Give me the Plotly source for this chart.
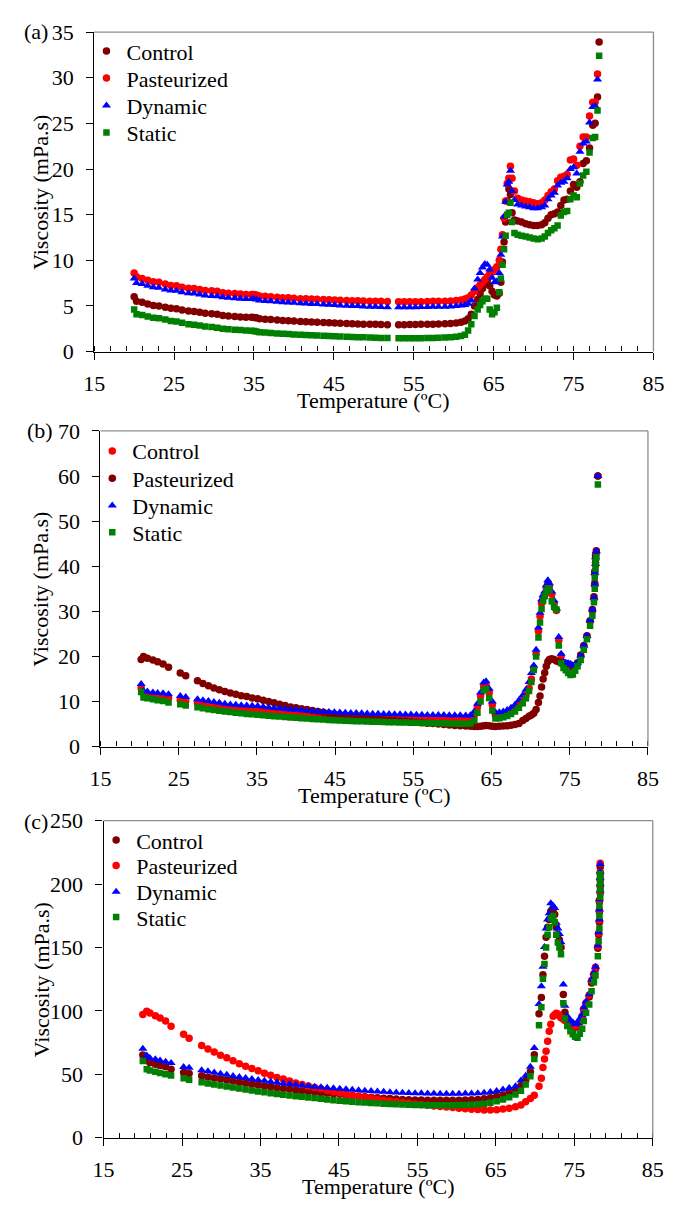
import plotly.graph_objects as go

W, H = 678, 1216

# ---------------- panel (a) ----------------
temp_a = [
    20.0, 20.3, 21.0, 21.7, 22.4, 23.1, 23.9, 24.6, 25.3, 26.0,
    26.8, 27.5, 28.2, 28.9, 29.7, 30.4, 31.1, 31.8, 32.6, 33.3,
    34.0, 34.7, 35.0, 35.3, 35.7, 36.4, 37.1, 37.9, 38.6, 39.3,
    40.0, 40.8, 41.5, 42.2, 42.9, 43.7, 44.4, 45.1, 45.8, 46.6,
    47.3, 48.0, 48.7, 49.5, 50.2, 50.9, 51.7, 53.1, 53.8, 54.5,
    55.2, 55.9, 56.7, 57.4, 58.1, 58.9, 59.6, 60.3, 60.9, 61.4,
    61.8, 62.2, 62.6, 63.0, 63.3, 63.6, 63.9, 64.2, 64.5, 64.8,
    65.1, 65.4, 65.7, 65.9, 66.1, 66.3, 66.5, 66.7, 66.9, 67.1,
    67.3, 67.6, 68.0, 68.5, 69.0, 69.5, 70.0, 70.5, 71.0, 71.4,
    71.8, 72.2, 72.6, 73.0, 73.4, 73.8, 74.2, 74.6, 75.0, 75.4,
    75.8, 76.2, 76.6, 77.0, 77.4, 77.7, 78.0, 78.2,
]
control_a = [
    6.0, 5.5, 5.4, 5.2, 5.05, 5.0, 4.85, 4.75, 4.7, 4.55,
    4.45, 4.4, 4.3, 4.2, 4.15, 4.1, 3.95, 3.9, 3.85, 3.8,
    3.75, 3.75, 3.72, 3.7, 3.6, 3.55, 3.5, 3.45, 3.4, 3.38,
    3.35, 3.3, 3.28, 3.25, 3.2, 3.18, 3.15, 3.12, 3.1, 3.08,
    3.05, 3.03, 3.0, 3.0, 2.98, 2.97, 2.95, 2.95, 2.95, 2.96,
    2.97, 2.98, 3.0, 3.0, 3.02, 3.05, 3.08, 3.12, 3.2, 3.35,
    3.6, 4.1, 5.0, 5.7, 6.3, 6.9, 7.4, 7.8, 7.2, 6.6,
    6.2, 6.1, 6.4, 7.6, 9.8, 12.0, 14.2, 16.5, 17.8, 17.2,
    15.2, 14.4, 14.3, 14.2, 14.0, 13.9, 13.8, 13.8, 13.9, 14.1,
    14.6, 15.0, 15.1, 15.3, 16.0, 16.6, 16.7, 17.6, 18.3, 18.0,
    18.6, 20.6, 20.9, 22.3, 24.8, 25.0, 27.9, 33.9,
]
pasteurized_a = [
    8.6, 8.2, 8.0, 7.8, 7.65, 7.6, 7.4, 7.25, 7.2, 7.05,
    6.95, 6.9, 6.8, 6.7, 6.65, 6.6, 6.45, 6.4, 6.35, 6.3,
    6.25, 6.25, 6.25, 6.2, 6.1, 6.05, 6.0, 5.95, 5.9, 5.9,
    5.85, 5.8, 5.8, 5.75, 5.72, 5.7, 5.68, 5.65, 5.62, 5.6,
    5.58, 5.56, 5.54, 5.52, 5.5, 5.5, 5.48, 5.45, 5.45, 5.46,
    5.46, 5.47, 5.48, 5.5, 5.5, 5.52, 5.55, 5.6, 5.65, 5.75,
    5.9, 6.2, 6.6, 7.0, 7.3, 7.6, 7.9, 8.2, 8.5, 8.7,
    9.0, 9.3, 10.0, 11.2, 12.8, 14.6, 16.5, 18.4, 19.0, 20.3,
    19.0, 17.6, 16.8, 16.6, 16.5, 16.4, 16.3, 16.2, 16.3, 16.6,
    17.1, 17.5, 17.8, 18.7, 19.1, 19.2, 19.4, 21.0, 21.1, 20.4,
    22.5, 23.5, 23.5, 25.8, 27.3, 27.3, 30.4, None,
]
dynamic_a = [
    8.0, 7.5, 7.4, 7.2, 7.05, 7.0, 6.8, 6.7, 6.65, 6.5,
    6.4, 6.35, 6.25, 6.15, 6.1, 6.05, 5.95, 5.9, 5.85, 5.8,
    5.75, 5.75, 5.75, 5.7, 5.6, 5.55, 5.5, 5.45, 5.4, 5.38,
    5.35, 5.3, 5.28, 5.22, 5.2, 5.15, 5.12, 5.1, 5.05, 5.02,
    5.0, 4.98, 4.95, 4.92, 4.9, 4.88, 4.85, 4.85, 4.85, 4.85,
    4.86, 4.87, 4.88, 4.9, 4.9, 4.92, 4.95, 5.0, 5.05, 5.1,
    5.25, 5.6, 6.9, 7.9, 8.6, 9.2, 9.6, 9.5, 9.0, 8.1,
    7.6, 7.7, 8.6, 10.6, 12.6, 14.8, 16.4, 18.3, 18.6, 19.8,
    17.6, 16.6, 16.1, 16.0, 15.9, 15.8, 15.7, 15.7, 15.8, 16.0,
    16.7, 17.1, 17.4, 18.2, 18.5, 18.6, 19.0, 20.0, 20.2, 19.5,
    21.9, 22.8, 23.0, 25.1, 26.8, 26.9, 29.8, None,
]
static_a = [
    4.6, 4.1, 4.0, 3.85, 3.7, 3.65, 3.5, 3.35, 3.3, 3.15,
    3.0, 2.95, 2.85, 2.75, 2.7, 2.62, 2.5, 2.45, 2.4, 2.35,
    2.3, 2.28, 2.25, 2.2, 2.12, 2.08, 2.03, 1.98, 1.95, 1.92,
    1.88, 1.85, 1.82, 1.78, 1.75, 1.72, 1.7, 1.67, 1.64, 1.62,
    1.6, 1.58, 1.56, 1.54, 1.52, 1.5, 1.48, 1.46, 1.46, 1.46,
    1.47, 1.47, 1.48, 1.5, 1.52, 1.55, 1.58, 1.62, 1.7, 1.85,
    2.3, 3.0, 3.9, 4.6, 5.1, 5.5, 5.8, 5.8, 4.6, 4.1,
    4.3, 4.8, 6.5, 8.0, 9.5, 11.2, 12.7, 15.0, 15.2, 16.3,
    14.2, 13.0, 12.8, 12.7, 12.6, 12.5, 12.4, 12.3, 12.4, 12.6,
    13.0, 13.3, 13.5, 13.8, 14.9, 15.3, 15.4, 16.7, 17.1, 16.9,
    18.4, 19.3, 19.7, 21.8, 23.4, 23.5, 26.4, 32.4,
]

# ---------------- panel (b) ----------------
temp_b = [
    20.2, 20.5, 21.0, 21.7, 22.3, 23.0, 23.7, 25.2, 25.9, 27.4,
    28.1, 28.8, 29.5, 30.2, 30.9, 31.6, 32.3, 33.0, 33.7, 34.4,
    35.1, 35.8, 36.5, 37.2, 37.9, 38.6, 39.3, 40.0, 40.7, 41.4,
    42.1, 42.8, 43.5, 44.2, 44.9, 45.6, 46.3, 47.0, 47.7, 48.4,
    49.1, 49.8, 50.5, 51.2, 51.9, 52.6, 53.3, 54.0, 54.7, 55.4,
    56.1, 56.8, 57.5, 58.2, 58.9, 59.6, 60.3, 61.0, 61.7, 62.3,
    62.8, 63.2, 63.6, 64.0, 64.3, 64.7, 65.1, 65.5, 66.0, 66.5,
    67.0, 67.5, 68.0, 68.5, 69.0, 69.4, 69.8, 70.1, 70.4, 70.7,
    71.0, 71.2, 71.4, 71.6, 71.8, 72.0, 72.2, 72.4, 72.7, 73.0,
    73.3, 73.6, 73.9, 74.2, 74.5, 74.8, 75.1, 75.4, 75.7, 76.0,
    76.4, 76.8, 77.2, 77.6, 77.9, 78.1, 78.2, 78.2, 78.3, 78.3,
    78.4, 78.6,
]
control_b = [
    13.0, 11.8, 11.5, 11.3, 11.1, 10.9, 10.7, 10.3, 10.1, 9.7,
    9.5, 9.3, 9.1, 8.9, 8.7, 8.55, 8.4, 8.25, 8.1, 8.0,
    7.9, 7.75, 7.65, 7.55, 7.45, 7.35, 7.25, 7.15, 7.08, 7.0,
    6.95, 6.9, 6.85, 6.8, 6.75, 6.7, 6.65, 6.6, 6.56, 6.52,
    6.48, 6.45, 6.42, 6.38, 6.35, 6.32, 6.3, 6.27, 6.24, 6.21,
    6.18, 6.15, 6.12, 6.1, 6.07, 6.05, 6.02, 6.0, 5.98, 6.0,
    7.0, 8.8, 11.2, 13.4, 13.6, 12.0, 9.3, 6.9, 7.0, 7.2,
    7.5, 7.9, 8.5, 9.3, 10.3, 11.4, 13.0, 15.0, 17.4, 20.6,
    25.6, 28.9, 31.8, 33.0, 33.8, 35.2, 36.2, 35.6, 33.8, 31.8,
    30.2, 23.6, 20.1, 18.6, 18.4, 18.3, 18.1, 17.8, 18.0, 18.4,
    20.0, 22.2, 24.4, 27.8, 30.2, 32.8, 35.8, 38.3, 40.3, 41.8,
    43.0, 60.0,
]
pasteurized_b = [
    19.3, 20.0, 19.6, 19.2, 18.8, 18.3, 17.6, 16.3, 15.7, 14.6,
    14.0, 13.5, 13.0, 12.6, 12.2, 11.9, 11.6, 11.3, 11.1, 10.8,
    10.6, 10.3, 10.0, 9.7, 9.4, 9.1, 8.8, 8.6, 8.4, 8.2,
    8.0, 7.8, 7.6, 7.4, 7.2, 7.05, 6.9, 6.75, 6.6, 6.45,
    6.3, 6.2, 6.1, 6.0, 5.9, 5.8, 5.7, 5.6, 5.5, 5.4,
    5.3, 5.2, 5.1, 5.0, 4.9, 4.8, 4.7, 4.6, 4.55, 4.5,
    4.45, 4.45, 4.5, 4.6, 4.65, 4.6, 4.5, 4.45, 4.5, 4.55,
    4.6, 4.75, 4.9, 5.1, 5.8, 6.2, 6.7, 7.0, 7.4, 8.2,
    9.8, 11.2, 13.2, 15.0, 16.4, 17.8, 18.8, 19.3, 19.5, 19.3,
    19.0, 18.8, 18.6, 18.4, 18.3, 18.1, 17.9, 17.6, 18.0, 18.6,
    20.3, 22.4, 24.6, 27.9, 30.4, 33.2, 36.2, 38.8, 40.8, 42.4,
    43.4, 60.0,
]
dynamic_b = [
    13.9, 12.4, 12.2, 12.0, 11.9, 11.8, 11.6, 11.2, 11.0, 10.5,
    10.3, 10.1, 9.9, 9.7, 9.5, 9.35, 9.25, 9.15, 9.1, 9.05,
    9.0, 8.85, 8.7, 8.55, 8.45, 8.35, 8.25, 8.15, 8.05, 7.95,
    7.88, 7.8, 7.72, 7.65, 7.6, 7.55, 7.5, 7.46, 7.42, 7.38,
    7.34, 7.3, 7.27, 7.24, 7.21, 7.18, 7.15, 7.12, 7.1, 7.08,
    7.05, 7.03, 7.0, 7.0, 6.98, 6.96, 6.95, 6.93, 6.92, 6.95,
    7.8, 9.5, 12.0, 14.2, 14.5, 12.8, 10.0, 7.6, 7.6, 7.8,
    8.1, 8.6, 9.3, 10.3, 11.4, 12.6, 14.3, 16.3, 18.0, 21.5,
    26.4, 29.7, 32.6, 33.6, 34.4, 35.8, 36.9, 36.2, 34.4, 32.4,
    30.6, 24.3, 20.6, 18.8, 18.6, 18.5, 18.3, 18.0, 18.2, 18.6,
    20.2, 22.4, 24.6, 28.0, 30.4, 33.0, 36.0, 38.5, 40.5, 42.0,
    43.3, 60.0,
]
static_b = [
    12.1, 10.9, 10.7, 10.5, 10.3, 10.1, 9.8, 9.4, 9.1, 8.7,
    8.5, 8.3, 8.1, 7.95, 7.8, 7.65, 7.5, 7.38, 7.25, 7.15,
    7.05, 6.95, 6.85, 6.75, 6.65, 6.55, 6.45, 6.37, 6.28, 6.2,
    6.12, 6.05, 5.98, 5.9, 5.82, 5.78, 5.72, 5.68, 5.63, 5.6,
    5.55, 5.52, 5.48, 5.45, 5.42, 5.38, 5.35, 5.32, 5.3, 5.27,
    5.25, 5.22, 5.2, 5.17, 5.15, 5.12, 5.1, 5.08, 5.06, 5.1,
    5.8, 7.5, 10.0, 12.5, 12.7, 10.8, 8.0, 6.2, 6.3, 6.5,
    6.8, 7.2, 7.8, 8.6, 9.6, 10.7, 12.3, 14.3, 17.0, 20.0,
    24.2, 27.5, 30.5, 32.3, 33.4, 34.5, 35.1, 34.6, 32.2, 31.0,
    30.4, 22.4, 18.5, 17.4, 16.9, 16.3, 15.9, 16.0, 16.8, 17.8,
    19.2, 21.5, 23.8, 26.8, 29.0, 32.0, 35.0, 37.5, 39.5, 41.0,
    42.0, 58.1,
]

# ---------------- panel (c) ----------------
temp_c = [
    20.0, 20.5, 20.9, 21.6, 22.2, 22.9, 23.6, 25.2, 25.9, 27.5,
    28.3, 29.1, 29.9, 30.7, 31.5, 32.3, 33.1, 33.9, 34.7, 35.5,
    36.3, 37.1, 37.9, 38.7, 39.5, 40.3, 41.1, 41.9, 42.7, 43.5,
    44.3, 45.1, 45.9, 46.7, 47.5, 48.3, 49.1, 49.9, 50.7, 51.5,
    52.3, 53.1, 53.9, 54.7, 55.5, 56.3, 57.1, 57.9, 58.7, 59.5,
    60.3, 61.1, 61.9, 62.7, 63.5, 64.3, 65.1, 65.9, 66.7, 67.5,
    68.2, 68.8, 69.4, 69.9, 70.5, 70.8, 71.0, 71.2, 71.4, 71.6,
    71.8, 72.0, 72.3, 72.5, 72.7, 72.9, 73.1, 73.3, 73.6, 73.8,
    74.1, 74.5, 74.8, 75.1, 75.4, 75.7, 76.0, 76.2, 76.5, 76.9,
    77.2, 77.5, 77.7, 78.0, 78.1, 78.2, 78.2, 78.2, 78.3, 78.3,
    78.3, 78.3, 78.3,
]
control_c = [
    65.3, 61.2, 59.0, 58.0, 57.0, 56.0, 54.0, 51.4, 50.6, 48.8,
    47.9, 47.0, 46.2, 45.4, 44.6, 43.8, 43.0, 42.2, 41.5, 40.8,
    40.1, 39.4, 38.8, 38.2, 37.6, 37.0, 36.5, 36.0, 35.5, 35.1,
    34.7, 34.2, 33.7, 33.2, 32.7, 32.3, 31.9, 31.5, 31.1, 30.8,
    30.5, 30.2, 30.0, 29.8, 29.7, 29.6, 29.5, 29.5, 29.5, 29.5,
    29.6, 29.7, 29.9, 30.2, 30.7, 31.4, 32.4, 33.6, 35.0, 37.0,
    41.0, 45.0, 52.0, 65.5, 97.7, 110.5, 128.5, 143.0, 158.0, 166.0,
    172.0, 178.5, 179.5, 176.0, 166.0, 160.0, 156.0, 150.0, 113.0, 99.0,
    93.0, 90.0, 88.5, 87.0, 87.5, 91.0, 95.0, 100.5, 105.5, 111.0,
    122.0, 128.0, 133.0, 149.5, 160.0, 170.0, 178.0, 186.0, 193.0, 198.0,
    203.0, 208.0, 213.5,
]
pasteurized_c = [
    97.1, 99.7, 98.4, 96.1, 94.3, 92.0, 87.9, 81.5, 78.4, 72.7,
    69.9, 67.6, 65.0, 63.0, 60.6, 58.4, 56.3, 54.5, 52.7, 50.9,
    49.3, 47.5, 46.2, 44.7, 43.2, 42.0, 40.8, 39.6, 38.5, 37.3,
    36.2, 35.2, 34.3, 33.4, 32.6, 31.8, 31.0, 30.3, 29.6, 28.9,
    28.3, 27.7, 27.1, 26.5, 26.0, 25.5, 25.0, 24.5, 24.1, 23.7,
    23.3, 22.9, 22.5, 22.2, 21.9, 21.9, 22.1, 22.6, 23.3, 24.4,
    25.7, 28.3, 30.8, 33.4, 40.6, 46.8, 55.3, 62.0, 68.1, 76.0,
    84.0, 89.4, 95.8, 97.0, 98.1, 97.5, 96.0, 94.5, 93.5, 92.5,
    91.0, 90.5, 89.5, 88.0, 88.5, 92.0, 96.0, 101.5, 106.5, 112.5,
    124.0, 129.5, 134.5, 151.0, 161.5, 171.5, 179.5, 187.5, 194.5, 199.5,
    204.5, 209.5, 216.5,
]
dynamic_c = [
    70.2, 64.8, 62.8, 61.8, 60.8, 59.8, 58.8, 55.8, 55.2, 53.2,
    52.3, 51.4, 50.5, 49.6, 48.7, 47.9, 47.1, 46.3, 45.5, 44.8,
    44.1, 43.5, 42.9, 42.3, 41.7, 41.2, 40.7, 40.2, 39.8, 39.4,
    39.0, 38.6, 38.2, 37.8, 37.4, 37.1, 36.8, 36.5, 36.2, 35.9,
    35.7, 35.5, 35.3, 35.1, 35.0, 34.9, 34.8, 34.7, 34.7, 34.7,
    34.7, 34.8, 34.9, 35.1, 35.4, 36.0, 36.8, 38.0, 39.2, 40.6,
    45.0, 48.8, 56.0, 70.7, 105.4, 119.5, 134.9, 150.3, 165.0, 172.0,
    177.0, 185.0, 183.0, 181.2, 169.6, 165.0, 160.6, 154.2, 120.8, 104.1,
    96.0, 92.5, 91.0, 89.5, 90.5, 93.8, 97.0, 102.8, 107.5, 113.1,
    124.6, 130.0, 134.9, 151.6, 162.0, 172.1, 180.0, 188.0, 195.0, 200.0,
    205.0, 210.0, 215.8,
]
static_c = [
    60.4, 54.0, 53.0, 52.0, 51.0, 50.0, 49.0, 46.8, 45.6, 43.7,
    42.8, 41.9, 41.1, 40.3, 39.5, 38.7, 37.9, 37.2, 36.5, 35.8,
    35.1, 34.5, 33.9, 33.3, 32.7, 32.2, 31.7, 31.2, 30.7, 30.2,
    29.6, 29.2, 28.8, 28.4, 28.0, 27.7, 27.4, 27.1, 26.8, 26.5,
    26.3, 26.1, 25.9, 25.8, 25.7, 25.6, 25.5, 25.5, 25.5, 25.6,
    25.7, 25.8, 26.0, 26.3, 26.8, 27.6, 28.7, 30.2, 31.8, 34.0,
    37.0, 42.0, 48.5, 62.0, 88.7, 102.8, 125.4, 137.0, 150.0, 160.0,
    166.0, 173.0, 174.8, 170.0, 160.0, 154.0, 150.0, 144.7, 106.0, 94.0,
    88.0, 84.0, 81.5, 79.6, 78.8, 82.0, 86.0, 92.0, 98.5, 105.0,
    115.5, 122.5, 128.0, 143.0, 155.0, 165.0, 175.0, 183.0, 190.0, 196.0,
    200.0, 204.0, 208.0,
]

# axis ticks
x_ticks = [15, 25, 35, 45, 55, 65, 75, 85]
y_ticks_a = [0, 5, 10, 15, 20, 25, 30, 35]
y_ticks_b = [0, 10, 20, 30, 40, 50, 60, 70]
y_ticks_c = [0, 50, 100, 150, 200, 250]

SERIF = "Liberation Serif, Times New Roman, serif"
FS = 22
DARK_RED = "#800000"
RED = "#FF0000"
BLUE = "#0000FF"
GREEN = "#008000"
BORDER = "#8c8c8c"

MARK = {
    "circle": 7.5,
    "triangle-up": 8,
    "square": 6.5,
}

# plot boxes in page pixels: left, right, top, bottom
panels = [
    dict(
        label="(a)", temp=temp_a, yticks=y_ticks_a, box=(86, 664, 20.5, 346.7),
        series=[("Control", control_a, DARK_RED, "circle"),
                ("Pasteurized", pasteurized_a, RED, "circle"),
                ("Dynamic", dynamic_a, BLUE, "triangle-up"),
                ("Static", static_a, GREEN, "square")],
        legend_x=78, legend_rows=[40.0, 67.6, 95.6, 123.3], label_xy=(11, 20),
    ),
    dict(
        label="(b)", temp=temp_b, yticks=y_ticks_b, box=(92.5, 658.3, 427.7, 750),
        series=[("Control", control_b, RED, "circle"),
                ("Pasteurized", pasteurized_b, DARK_RED, "circle"),
                ("Dynamic", dynamic_b, BLUE, "triangle-up"),
                ("Static", static_b, GREEN, "square")],
        legend_x=84, legend_rows=[448.3, 476.3, 504.0, 531.3], label_xy=(14, 427),
    ),
    dict(
        label="(c)", temp=temp_c, yticks=y_ticks_c, box=(95.7, 663.3, 825.7, 1149.3),
        series=[("Control", control_c, DARK_RED, "circle"),
                ("Pasteurized", pasteurized_c, RED, "circle"),
                ("Dynamic", dynamic_c, BLUE, "triangle-up"),
                ("Static", static_c, GREEN, "square")],
        legend_x=88, legend_rows=[845.7, 871.7, 898.3, 924.3], label_xy=(11, 826),
    ),
]

fig = go.Figure()
layout = dict(
    width=W, height=H,
    margin=dict(l=0, r=0, t=0, b=0),
    paper_bgcolor="white", plot_bgcolor="white",
    font=dict(family=SERIF, size=FS, color="black"),
    showlegend=True,
)
annotations = []
shapes = []


def fx(p):
    return p / W


def fy(p):
    return 1 - p / H


leg_no = 0
for i, pan in enumerate(panels, start=1):
    sfx = "" if i == 1 else str(i)
    xa, ya = "x" + sfx, "y" + sfx
    left, right, top, bottom = pan["box"]

    for (name, vals, color, symbol), row_y in zip(pan["series"], pan["legend_rows"]):
        # one single-entry legend per row so the rows sit at fixed heights
        leg_no += 1
        leg = "legend" if leg_no == 1 else "legend%d" % leg_no
        fig.add_trace(go.Scatter(
            x=pan["temp"], y=vals, mode="markers", name=name,
            xaxis=xa, yaxis=ya, legend=leg,
            marker=dict(color=color, symbol=symbol, size=MARK[symbol],
                        line=dict(width=0)),
            hoverinfo="skip",
        ))
        layout[leg] = dict(
            x=fx(pan["legend_x"]), y=fy(row_y), xanchor="left", yanchor="middle",
            bgcolor="rgba(0,0,0,0)", borderwidth=0,
            font=dict(family=SERIF, size=FS, color="black"),
            itemwidth=30, tracegroupgap=0,
        )

    layout["xaxis" + sfx] = dict(
        domain=[fx(left), fx(right)], anchor=ya,
        range=[15, 85], tickvals=x_ticks, ticks="outside", ticklen=7,
        tickwidth=1.2, tickcolor="black",
        minor=dict(tick0=15, dtick=2, ticks="inside", ticklen=5,
                   tickwidth=1.2, tickcolor="black", showgrid=False),
        showline=True, linecolor="black", linewidth=1.3,
        showgrid=False, zeroline=False,
        tickfont=dict(family=SERIF, size=FS, color="black"),
        ticklabelstandoff=5,
    )
    yt = pan["yticks"]
    layout["yaxis" + sfx] = dict(
        domain=[fy(bottom), fy(top)], anchor=xa,
        range=[yt[0], yt[-1]], tickvals=yt, ticks="outside", ticklen=7,
        tickwidth=1.2, tickcolor="black",
        showline=True, linecolor="black", linewidth=1.3,
        showgrid=False, zeroline=False,
        tickfont=dict(family=SERIF, size=FS, color="black"),
        ticklabelstandoff=8,
    )

    # grey frame on the top and right edges
    shapes.append(dict(type="line", xref=xa + " domain", yref=ya + " domain",
                       x0=0, x1=1, y0=1, y1=1,
                       line=dict(color=BORDER, width=1.3)))
    shapes.append(dict(type="line", xref=xa + " domain", yref=ya + " domain",
                       x0=1, x1=1, y0=0, y1=1,
                       line=dict(color=BORDER, width=1.3)))

    # axis titles and panel letter
    annotations.append(dict(
        text="Temperature (ºC)", xref="paper", yref="paper",
        x=fx((left + right) / 2), y=fy(bottom + 50),
        xanchor="center", yanchor="middle", showarrow=False,
        font=dict(family=SERIF, size=FS, color="black"),
    ))
    annotations.append(dict(
        text="Viscosity (mPa.s)", xref="paper", yref="paper",
        x=fx(31), y=fy((top + bottom) / 2), textangle=-90,
        xanchor="center", yanchor="middle", showarrow=False,
        font=dict(family=SERIF, size=FS, color="black"),
    ))
    px_, py_ = pan["label_xy"]
    annotations.append(dict(
        text=pan["label"], xref="paper", yref="paper",
        x=fx(px_), y=fy(py_), xanchor="left", yanchor="middle",
        showarrow=False, font=dict(family=SERIF, size=FS, color="black"),
    ))

layout["annotations"] = annotations
layout["shapes"] = shapes
fig.update_layout(**layout)

fig.write_html("out.html")
